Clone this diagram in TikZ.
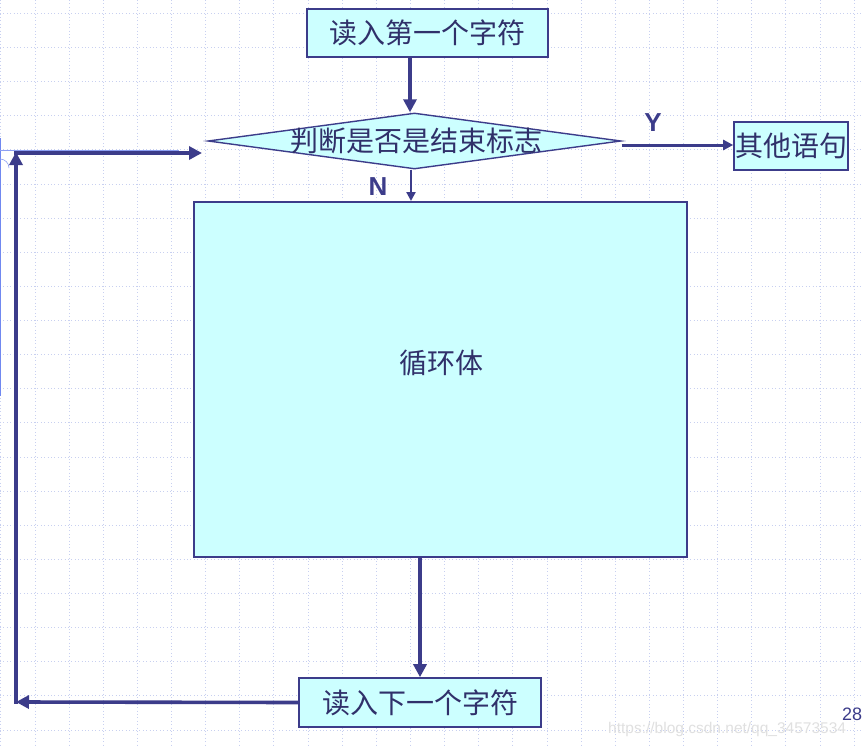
\documentclass[tikz,border=0pt]{standalone}
\usepackage{fontspec}
\setmainfont{Liberation Sans}
\newfontfamily\cjk{Noto Sans CJK SC}
\usetikzlibrary{arrows.meta,shapes.geometric}
\definecolor{navy}{HTML}{3C3C8A}
\definecolor{txtc}{HTML}{30306A}
\definecolor{boxfill}{HTML}{CCFFFF}
\definecolor{gridc}{HTML}{C8D0F0}
\definecolor{edgeblue}{HTML}{7088F0}
\tikzset{
  gridline/.style={gridc, line width=0.9pt, dash pattern=on 1pt off 2.4pt},
  cbox/.style={draw=navy, fill=boxfill, line width=1.6pt, text=txtc, inner sep=0pt,
    font=\cjk\fontsize{28}{32}\selectfont},
  dbox/.style={diamond, draw=navy, fill=boxfill, line width=1.4pt, inner sep=0pt},
  ctext/.style={text=txtc, inner sep=0pt, font=\cjk\fontsize{28}{32}\selectfont},
  lbl/.style={text=navy, inner sep=0pt, font=\bfseries\fontsize{26}{30}\selectfont},
  arr/.style={draw=navy, line width=3.6pt, -{Triangle[length=13pt,width=13pt]}},
  sarr/.style={draw=navy, line width=3pt, -{Triangle[length=10pt,width=10pt]}},
  narr/.style={draw=navy, line width=2.2pt, -{Triangle[length=9pt,width=9pt]}}
}
\begin{document}
\begin{tikzpicture}[x=1pt,y=-1pt]
\useasboundingbox (0,0) rectangle (863,747);
\clip (0,0) rectangle (863,747);
\fill[white] (0,0) rectangle (863,747);
% grid
\foreach \i in {0,...,25} \draw[gridline] ({0.9+34.13*\i},0) -- ({0.9+34.13*\i},747);
\foreach \j in {0,...,21} \draw[gridline] (0,{13.3+34.13*\j}) -- (863,{13.3+34.13*\j});
% edge artefacts
\draw[edgeblue, line width=1.2pt] (0.6,138) -- (0.6,396);
\draw[edgeblue!80, line width=0.8pt] (0,150) -- (179,150);
\draw[edgeblue!80, line width=0.6pt] (0,159) arc[start angle=-90, end angle=0, radius=9];
% nodes
\node[cbox, minimum width=241pt, minimum height=48pt] (b1) at (427.5,33) {读入第一个字符};
\node[dbox, minimum width=413pt, minimum height=56pt] (d) at (414.5,141) {};
\node[ctext] (dt) at (416,141) {判断是否是结束标志};
\node[cbox, minimum width=114pt, minimum height=48pt] (b2) at (791,146) {其他语句};
\node[cbox, line width=2pt, minimum width=493pt, minimum height=355pt] (body) at (440.5,379.5) {};
\node[ctext] (bt) at (441,363) {循环体};
\node[cbox, minimum width=242pt, minimum height=49pt] (b3) at (420,702.5) {读入下一个字符};
\node[lbl] (y) at (653,123) {Y};
\node[lbl] (n) at (378,187) {N};
\coordinate (c1) at (16,702);
\coordinate (c2) at (16,152);
\coordinate (c3) at (202,153);
\coordinate (nstart) at ([xshift=-3.5pt]d.south);
% connectors
\draw[arr] ([xshift=-17.5pt]b1.south) -- ([xshift=-4.5pt]d.north);
\draw[sarr] ([yshift=-4pt]d.east) -- ([yshift=1pt]b2.west);
\draw[narr] (nstart) -- (nstart |- body.north);
\draw[arr] (body.south -| b3.north) -- (b3.north);
\draw[arr] (b3.west) -- (c1);
\draw[arr, shorten <=-1.8pt] (c1) -- (c2);
\draw[arr] ([xshift=-1.8pt]c2 |- c3) -- (c3);
% page number and watermark
\node[anchor=west, text=navy, inner sep=0pt, font=\fontsize{18}{22}\selectfont] (pg) at (842,714) {28};
\node[anchor=west, text=black!12, inner sep=0pt, font=\fontsize{15.5}{18}\selectfont] (wm) at (608,729) {https://blog.csdn.net/qq\_34573534};
\end{tikzpicture}
\end{document}
